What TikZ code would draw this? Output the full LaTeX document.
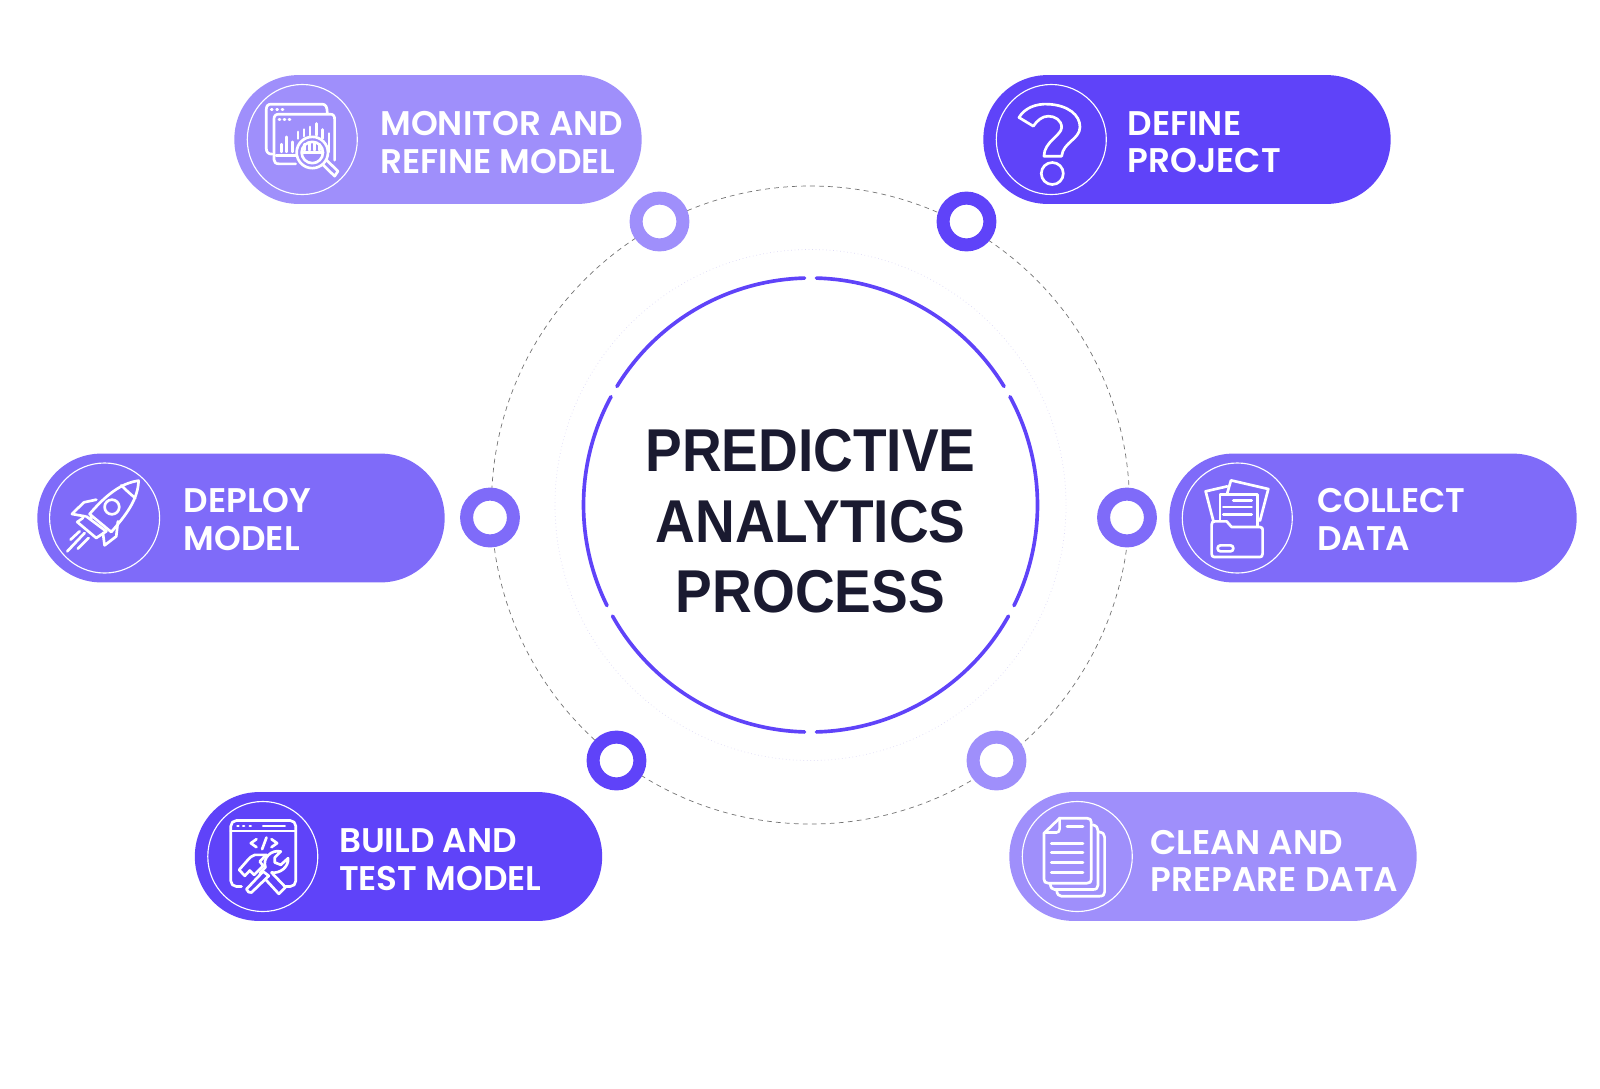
\documentclass[tikz,border=0pt]{standalone}
\usepackage{fontspec}
\setmainfont{Liberation Sans}
\newfontfamily\pillfont{Poppins SemiBold}
\newfontfamily\hubfont{Liberation Sans Bold}[FakeStretch=0.91]
\usepackage{xcolor}
\definecolor{violet}{HTML}{5F43F9}
\definecolor{midviolet}{HTML}{7F6BF9}
\definecolor{paleviolet}{HTML}{9F8FFB}
\definecolor{ink}{HTML}{1A1A30}
\definecolor{mist}{HTML}{DDDAF6}
\usetikzlibrary{arrows.meta,positioning,calc}

\begin{document}
\begin{tikzpicture}[
    x=0.025cm, y=-0.025cm,
    hub_disc/.style={circle, minimum size=11.35cm, inner sep=0pt},
    hub_label/.style={inner sep=0pt, align=center, text=ink, font=\hubfont\fontsize{43}{50}\selectfont},
    hub_arc/.style={violet, line width=2.6pt, line cap=round},
    orbit_dash/.style={gray!90!black, line width=0.5pt, dash pattern=on 3.4pt off 3pt},
    orbit_dot/.style={mist, line width=0.5pt, dotted},
    pill_box/.style={rounded corners=1.6cm, minimum width=10.18cm, minimum height=3.22cm, inner sep=0pt},
    icon_ring/.style={circle, draw=white, line width=0.8pt, minimum size=2.75cm, inner sep=0pt},
    pill_label/.style={inner sep=0pt, align=left, text=white, font=\pillfont\fontsize{24.3}{26.7}\selectfont},
    step_dot/.style={circle, draw=#1, line width=0.325cm, fill=white, minimum size=1.17cm, inner sep=0pt},
    icon_line/.style={draw=white, line width=1.9pt, line cap=round, line join=round}
]
  \useasboundingbox (0,0) rectangle (1600,1088);

  % Centre
  \node[hub_disc] (hub) at (810.5,505) {};
  \node[hub_label, yshift=-11.5pt] (hub_text) at (hub.center) {PREDICTIVE\\ANALYTICS\\PROCESS};
  \draw[orbit_dash] (hub.center) circle[radius=319];
  \draw[orbit_dot] (hub.center) circle[radius=255.5];
  \foreach \from/\to in {29.3/88.5, 91.5/150.7, 153.7/208.5, 211.5/268.5, 271.5/328.5, 331.5/386.3}
    \draw[hub_arc] ([shift={(\from:227)}]hub.center) arc[start angle=\from, end angle=\to, radius=227];

  % Dots on the orbit
  \node[step_dot=paleviolet] (monitor_dot) at (659.5,221.5) {};
  \node[step_dot=violet] (define_dot) at (966.5,221.5) {};
  \node[step_dot=midviolet] (deploy_dot) at (490,517.5) {};
  \node[step_dot=midviolet] (collect_dot) at (1127,517.5) {};
  \node[step_dot=violet] (build_dot) at (616.5,760.5) {};
  \node[step_dot=paleviolet] (clean_dot) at (996.5,760.5) {};

  % Pills
  \node[pill_box, fill=paleviolet] (monitor_box) at (438,139.5) {};
  \node[pill_box, fill=violet] (define_box) at (1187,139.5) {};
  \node[pill_box, fill=midviolet] (deploy_box) at (241,518) {};
  \node[pill_box, fill=midviolet] (collect_box) at (1373,518) {};
  \node[pill_box, fill=violet] (build_box) at (398.5,856.5) {};
  \node[pill_box, fill=paleviolet] (clean_box) at (1213,856.5) {};

  \node[icon_ring, right=9pt of monitor_box.west] (monitor_ring) {};
  \node[icon_ring, right=9pt of define_box.west] (define_ring) {};
  \node[icon_ring, right=8.5pt of deploy_box.west] (deploy_ring) {};
  \node[icon_ring, right=9pt of collect_box.west] (collect_ring) {};
  \node[icon_ring, right=9pt of build_box.west] (build_ring) {};
  \node[icon_ring, right=9pt of clean_box.west] (clean_ring) {};

  \node[pill_label, right=15.8pt of monitor_ring.east, yshift=-2pt] (monitor_text) {MONITOR AND\\REFINE MODEL};
  \node[pill_label, right=14.6pt of define_ring.east, yshift=-2pt] (define_text) {DEFINE\\PROJECT};
  \node[pill_label, right=16.6pt of deploy_ring.east, yshift=-1pt] (deploy_text) {DEPLOY\\MODEL};
  \node[pill_label, right=17pt of collect_ring.east, yshift=-1pt] (collect_text) {COLLECT\\DATA};
  \node[pill_label, right=14.5pt of build_ring.east, yshift=-2.3pt] (build_text) {BUILD AND\\TEST MODEL};
  \node[pill_label, right=12.5pt of clean_ring.east, yshift=-3pt] (clean_text) {CLEAN AND\\PREPARE DATA};

  % Monitor icon
  \begin{scope}[shift={(monitor_ring.center)}, x=0.00833cm, y=-0.00833cm, shift={(-215,-208)}, icon_line]
    \draw (125,252) .. controls (112,252) and (107,245) .. (107,235) -- (107,118) .. controls (107,107) and (112,102) .. (122,102) -- (275,102) .. controls (285,102) and (290,110) .. (290,130);
    \draw (195,281) -- (145,281) .. controls (135,281) and (130,276) .. (130,268) -- (130,147) .. controls (130,137) and (135,132) .. (145,132) -- (298,132) .. controls (308,132) and (312,137) .. (312,147) -- (312,270);
    \draw (136,255) -- (195,255);
    \foreach \px in {122,138,154} \draw (\px,117) -- ++(3,0);
    \foreach \px in {145,160,175} \draw (\px,147) -- ++(3,0);
    \draw (152,245) -- (152,222);
    \draw (168,245) -- (168,200);
    \draw (185,245) -- (185,215);
    \draw (202,205) -- (202,185);
    \draw (220,198) -- (220,178);
    \draw (238,195) -- (238,170);
    \draw (258,195) -- (258,160);
    \draw (275,205) -- (275,178);
    \draw (295,245) -- (295,190);
    \draw (245,247) circle[radius=47];
    \draw (245,247) circle[radius=32];
    \draw (222,240) -- (222,222);
    \draw (237,240) -- (237,218);
    \draw (252,240) -- (252,218);
    \draw (267,240) -- (267,222);
    \draw (215,247) -- (276,247);
    \draw (288,270) -- (322,303) -- (312,318) -- (277,284);
  \end{scope}

  % Define icon
  \begin{scope}[shift={(define_ring.center)}, x=0.00833cm, y=-0.00833cm, shift={(-214,-208)}, icon_line]
    \draw (117,142) .. controls (135,112) and (170,100) .. (205,102) .. controls (265,105) and (300,135) .. (300,170) .. controls (300,208) and (250,215) .. (245,258) -- (192,258) .. controls (192,215) and (245,195) .. (245,172) .. controls (245,150) and (225,138) .. (205,138) .. controls (188,138) and (172,150) .. (160,168) -- cycle;
    \draw (217,310) circle[radius=33];
  \end{scope}

  % Deploy icon
  \begin{scope}[shift={(deploy_ring.center)}, x=0.00833cm, y=-0.00833cm, shift={(-220,-205)}, icon_line]
    \draw (322,93) .. controls (270,100) and (225,135) .. (175,193) -- (240,247) .. controls (285,195) and (320,150) .. (322,93) -- cycle;
    \draw (270,107) .. controls (285,122) and (298,134) .. (312,145);
    \draw (242,172) circle[radius=22];
    \draw (195,150) -- (158,158) -- (122,193) -- (162,200);
    \draw (260,215) -- (255,260) -- (220,287) -- (215,250);
    \draw (165,200) -- (225,245) -- (195,265) -- (138,217) -- (155,205);
    \draw (178,202) -- (181,205);
    \draw (108,305) -- (160,250);
    \draw (118,270) -- (145,245);
    \draw (140,297) -- (172,265);
  \end{scope}

  % Collect icon
  \begin{scope}[shift={(collect_ring.center)}, x=0.00833cm, y=-0.00833cm, shift={(-202,-205)}, icon_line]
    \draw (130,213) -- (107,125) -- (172,110);
    \draw (172,130) -- (183,92) -- (295,118) -- (270,213);
    \draw (150,213) -- (150,135) -- (262,135) -- (262,230);
    \draw (190,152) -- (245,152);
    \draw (160,172) -- (245,172);
    \draw (160,195) -- (245,195);
    \draw (135,215) -- (170,215) -- (185,232) -- (270,232) .. controls (276,232) and (278,236) .. (278,240) -- (278,312) .. controls (278,320) and (274,322) .. (270,322) -- (133,322) .. controls (127,322) and (125,318) .. (125,312) -- (125,225) .. controls (125,218) and (128,215) .. (135,215) -- cycle;
    \draw[rounded corners=2pt] (143,287) rectangle (190,305);
  \end{scope}

  % Build icon
  \begin{scope}[shift={(build_ring.center)}, x=0.00833cm, y=-0.00833cm, shift={(-214,-200)}, icon_line]
    \draw[rounded corners=4pt] (150,290) -- (118,290) -- (118,92) -- (313,92) -- (313,290) -- (280,290);
    \draw (118,123) -- (313,123);
    \foreach \px in {138,155,175} \draw (\px,108) -- ++(3,0);
    \draw (215,108) -- (280,108);
    \draw (195,148) -- (178,160) -- (195,172);
    \draw (212,178) -- (225,143);
    \draw (240,148) -- (257,160) -- (240,172);
    \draw[fill=violet] (262,312) -- (282,292) -- (240,248) .. controls (265,252) and (292,232) .. (290,205) -- (268,225) -- (250,218) -- (250,203) -- (268,185) .. controls (240,178) and (212,205) .. (222,232) -- (205,250) -- cycle;
    \draw[fill=violet] (215,245) -- (165,298) .. controls (168,306) and (174,310) .. (180,308) -- (232,258) -- cycle;
    \draw[fill=violet] (143,240) -- (165,215) .. controls (175,203) and (182,197) .. (190,195) -- (225,195) -- (205,215) -- (215,228) -- (188,255) -- (175,242) -- (160,258) -- cycle;
  \end{scope}

  % Clean icon
  \begin{scope}[shift={(clean_ring.center)}, x=0.00833cm, y=-0.00833cm, shift={(-203,-200)}, icon_line]
    \draw (150,85) -- (232,85) .. controls (241,85) and (245,90) .. (245,97) -- (245,268) .. controls (245,276) and (241,280) .. (232,280) -- (116,280) .. controls (107,280) and (103,276) .. (103,268) -- (103,130) -- cycle;
    \draw (150,85) -- (150,117) .. controls (150,124) and (146,128) .. (140,128) -- (105,128);
    \draw (172,110) -- (220,110);
    \foreach \py in {160,188,218,247} \draw (125,\py) -- (220,\py);
    \draw (250,105) .. controls (260,108) and (265,113) .. (265,122) -- (265,286) .. controls (265,295) and (260,299) .. (250,299) -- (135,299) .. controls (128,299) and (123,294) .. (122,283);
    \draw (267,126) .. controls (280,128) and (285,133) .. (285,142) -- (285,306) .. controls (285,315) and (280,319) .. (270,319) -- (155,319) .. controls (148,319) and (143,314) .. (141,302);
  \end{scope}
\end{tikzpicture}
\end{document}
